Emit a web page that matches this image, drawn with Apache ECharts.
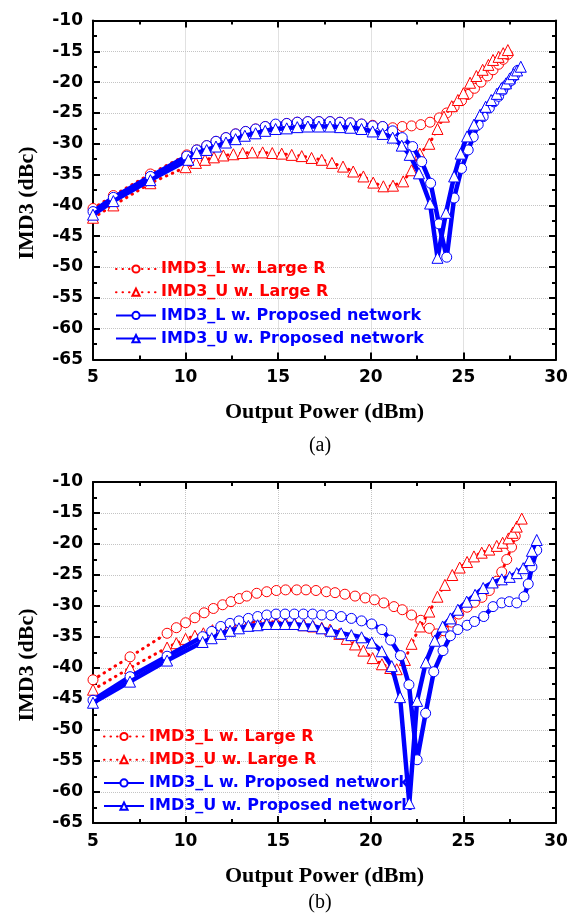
<!DOCTYPE html>
<html><head><meta charset="utf-8">
<script src="https://cdn.jsdelivr.net/npm/echarts@6/dist/echarts.min.js"></script>
<style>html,body{margin:0;padding:0;background:#fff}#c{width:578px;height:919px}</style>
</head><body><div id="c"></div><script>
// ---------- Data: chart (a) ----------
const xTicks = [5, 10, 15, 20, 25, 30];
const yTicks = [-65, -60, -55, -50, -45, -40, -35, -30, -25, -20, -15, -10];
const seriesNames = ['IMD3_L w. Large R', 'IMD3_U w. Large R', 'IMD3_L w. Proposed network', 'IMD3_U w. Proposed network'];

const aX_LR = [5, 6.1, 8.1, 10.06, 10.6, 11.14, 11.64, 12.18, 12.7, 13.24, 13.78, 14.3, 14.86, 15.46, 16.03, 16.6, 17.2, 17.8, 18.34, 18.9, 19.5, 20.1, 20.64, 21.18, 21.7, 22.2, 22.7, 23.2, 23.7, 24.1, 24.5, 24.9, 25.25, 25.6, 25.95, 26.3, 26.6, 26.9, 27.15, 27.4];
const aY_LR = [-40.5, -38.4, -34.9, -31.8, -31.0, -30.3, -29.6, -29.0, -28.4, -28.0, -27.6, -27.2, -26.9, -26.7, -26.5, -26.4, -26.4, -26.4, -26.5, -26.6, -26.8, -27.0, -27.2, -27.4, -27.2, -27.1, -26.9, -26.5, -25.8, -25.0, -24.0, -23.0, -22.0, -21.0, -20.0, -19.0, -18.0, -17.1, -16.3, -15.5];

const aX_UR = [5, 6.1, 8.1, 10.0, 10.56, 11.05, 11.53, 12.04, 12.58, 13.08, 13.6, 14.16, 14.68, 15.19, 15.73, 16.27, 16.8, 17.35, 17.9, 18.5, 19.05, 19.6, 20.13, 20.68, 21.2, 21.75, 22.2, 22.65, 23.16, 23.6, 23.95, 24.37, 24.7, 25.0, 25.36, 25.7, 26.04, 26.35, 26.6, 26.9, 27.15, 27.4];
const aY_UR = [-42.0, -40.0, -36.4, -33.8, -33.1, -32.6, -32.2, -31.9, -31.7, -31.5, -31.4, -31.4, -31.5, -31.6, -31.8, -32.0, -32.3, -32.6, -33.1, -33.7, -34.5, -35.3, -36.3, -36.9, -36.8, -36.1, -34.3, -31.6, -30.0, -27.6, -25.6, -23.9, -22.9, -21.8, -20.1, -19.0, -18.0, -17.2, -16.4, -15.9, -15.3, -14.8];

const aX_LP = [5, 6.1, 8.1, 10.06, 10.6, 11.14, 11.64, 12.18, 12.7, 13.24, 13.78, 14.3, 14.86, 15.46, 16.03, 16.6, 17.2, 17.8, 18.34, 18.9, 19.5, 20.1, 20.64, 21.18, 21.7, 22.26, 22.75, 23.23, 23.68, 24.1, 24.5, 24.9, 25.26, 25.53, 25.8, 26.07, 26.4, 26.65, 26.9, 27.12, 27.34, 27.55, 27.75, 27.93];
const aY_LP = [-41.0, -38.7, -35.3, -32.0, -31.0, -30.3, -29.6, -29.0, -28.4, -28.0, -27.6, -27.2, -26.8, -26.7, -26.5, -26.4, -26.4, -26.4, -26.5, -26.6, -26.8, -27.1, -27.2, -27.9, -29.0, -30.45, -32.9, -36.4, -43.0, -48.4, -38.8, -34.0, -31.0, -28.9, -26.9, -25.6, -24.2, -23.2, -22.3, -21.3, -20.45, -19.8, -19.0, -18.1];

const aX_UP = [5, 6.1, 8.1, 10.15, 10.6, 11.14, 11.64, 12.18, 12.7, 13.2, 13.78, 14.3, 14.86, 15.46, 16.03, 16.6, 17.2, 17.8, 18.34, 18.9, 19.5, 20.1, 20.64, 21.18, 21.67, 22.1, 22.6, 23.2, 23.6, 24.06, 24.5, 24.85, 25.2, 25.57, 25.9, 26.2, 26.5, 26.8, 27.05, 27.3, 27.5, 27.7, 27.9, 28.1];
const aY_UP = [-41.5, -39.3, -35.9, -32.6, -31.5, -31.0, -30.45, -29.8, -29.25, -28.7, -28.3, -27.9, -27.6, -27.5, -27.3, -27.2, -27.2, -27.2, -27.3, -27.4, -27.6, -28.0, -28.4, -29.0, -30.3, -31.8, -34.8, -39.7, -48.5, -41.2, -35.3, -31.6, -28.8, -26.9, -25.3, -24.0, -22.9, -21.9, -21.0, -20.2, -19.4, -18.7, -18.1, -17.5];

// ---------- Data: chart (b) ----------
const bX_LR = [5, 7, 9, 9.5, 10, 10.5, 11, 11.5, 12, 12.45, 12.9, 13.3, 13.84, 14.38, 14.9, 15.4, 16.0, 16.5, 17.04, 17.6, 18.07, 18.6, 19.15, 19.7, 20.2, 20.7, 21.25, 21.7, 22.2, 22.7, 23.16, 23.55, 23.95, 24.35, 24.75, 25.2, 25.6, 26.0, 26.4, 26.8, 27.07, 27.34, 27.6, 27.8];
const bY_LR = [-41.9, -38.2, -34.4, -33.5, -32.7, -31.9, -31.1, -30.4, -29.8, -29.3, -28.8, -28.4, -27.95, -27.7, -27.5, -27.4, -27.4, -27.4, -27.5, -27.7, -27.85, -28.1, -28.4, -28.7, -29.0, -29.5, -30.1, -30.6, -31.45, -32.3, -33.6, -34.5, -34.0, -32.6, -31.3, -30.2, -29.4, -28.6, -27.5, -26.0, -24.5, -22.5, -20.5, -18.7];

const bX_UR = [5, 7, 9, 9.5, 10, 10.5, 10.96, 11.45, 11.95, 12.4, 12.9, 13.4, 13.9, 14.4, 14.9, 15.4, 15.9, 16.4, 16.9, 17.35, 17.8, 18.3, 18.7, 19.15, 19.6, 20.1, 20.6, 21.05, 21.4, 21.84, 22.2, 22.66, 23.16, 23.6, 24.0, 24.4, 24.8, 25.2, 25.57, 25.99, 26.4, 26.8, 27.12, 27.43, 27.66, 27.88, 28.15];
const bY_UR = [-43.5, -40.0, -36.7, -36.0, -35.3, -34.8, -34.4, -33.9, -33.5, -33.2, -32.9, -32.7, -32.5, -32.5, -32.6, -32.7, -32.9, -33.1, -33.3, -33.5, -33.8, -34.5, -35.3, -36.2, -37.2, -38.4, -39.4, -40.0, -40.2, -38.7, -36.1, -33.3, -30.9, -28.5, -26.6, -25.0, -23.8, -22.9, -22.0, -21.4, -20.9, -20.3, -19.8, -19.1, -18.2, -17.2, -15.9];

const bX_LP = [5, 7, 9, 10.92, 11.41, 11.9, 12.4, 12.88, 13.39, 13.89, 14.38, 14.88, 15.37, 15.87, 16.36, 16.86, 17.35, 17.85, 18.4, 18.95, 19.5, 20.05, 20.6, 21.07, 21.6, 22.06, 22.5, 22.96, 23.4, 23.9, 24.3, 24.7, 25.2, 25.6, 26.1, 26.6, 27.07, 27.48, 27.88, 28.27, 28.5, 28.7, 28.96];
const bY_LP = [-45.2, -41.4, -38.1, -34.95, -34.1, -33.3, -32.8, -32.4, -32.0, -31.7, -31.45, -31.3, -31.3, -31.3, -31.3, -31.3, -31.45, -31.5, -31.7, -32.0, -32.4, -32.9, -33.8, -35.5, -38.0, -42.7, -54.8, -47.3, -40.6, -37.2, -34.8, -33.8, -33.1, -32.5, -31.7, -30.1, -29.5, -29.3, -29.5, -28.5, -26.45, -23.7, -21.0];

const bX_UP = [5, 7, 9, 10.92, 11.41, 11.9, 12.4, 12.88, 13.39, 13.89, 14.38, 14.88, 15.37, 15.87, 16.36, 16.86, 17.35, 17.85, 18.4, 18.95, 19.5, 20.05, 20.59, 21.13, 21.58, 22.08, 22.5, 22.97, 23.45, 23.88, 24.3, 24.7, 25.18, 25.63, 26.07, 26.58, 27.07, 27.5, 27.88, 28.23, 28.56, 28.7, 28.96];
const bY_UP = [-45.6, -42.2, -38.8, -35.8, -35.2, -34.5, -34.0, -33.6, -33.2, -33.1, -32.9, -32.9, -32.9, -32.9, -33.1, -33.2, -33.6, -34.0, -34.4, -34.7, -35.05, -35.9, -37.3, -39.7, -44.7, -61.8, -45.3, -39.1, -35.6, -33.3, -32.0, -30.6, -29.3, -28.2, -27.1, -26.2, -25.7, -25.3, -24.7, -23.9, -22.6, -21.1, -19.35];

// ---------- Build ----------
const RED = '#ff0000', BLUE = '#0000ff';
const zip = (xs, ys) => xs.map((x, i) => [x, ys[i]]);
const tickFont = { fontFamily: 'DejaVu Sans', fontWeight: 'bold', fontSize: 17, color: '#000' };
const frame = { onZero: false, lineStyle: { color: '#000', width: 2 } };
const tick = { inside: true, length: 7, lineStyle: { color: '#000', width: 2 } };
const minor = { show: true, splitNumber: 2, length: 4, lineStyle: { color: '#000', width: 2 } };
const split = { show: true, lineStyle: { type: 'dotted', color: '#c4c4c4', width: 1 } };

function xAxes(g) {
  return [
    { type: 'value', gridIndex: g, position: 'bottom', min: xTicks[0], max: xTicks[xTicks.length - 1], interval: 5,
      axisLine: frame, axisTick: tick, minorTick: minor, splitLine: split,
      axisLabel: Object.assign({ margin: 10 }, tickFont),
      name: 'Output Power (dBm)', nameLocation: 'middle', nameGap: 42,
      nameTextStyle: { fontFamily: 'Liberation Serif', fontWeight: 'bold', fontSize: 22, color: '#000' } },
    { type: 'value', gridIndex: g, position: 'top', min: xTicks[0], max: xTicks[xTicks.length - 1], interval: 5,
      axisLine: frame, axisTick: tick, minorTick: minor, splitLine: { show: false }, axisLabel: { show: false } }
  ];
}
function yAxes(g) {
  return [
    { type: 'value', gridIndex: g, position: 'left', min: yTicks[0], max: yTicks[yTicks.length - 1], interval: 5,
      axisLine: frame, axisTick: tick, minorTick: minor, splitLine: split,
      axisLabel: Object.assign({ margin: 10 }, tickFont) },
    { type: 'value', gridIndex: g, position: 'right', min: yTicks[0], max: yTicks[yTicks.length - 1], interval: 5,
      axisLine: frame, axisTick: tick, minorTick: minor, splitLine: { show: false }, axisLabel: { show: false } }
  ];
}
function mk(nameIdx, xs, ys, g) {
  const red = nameIdx < 2;
  const col = red ? RED : BLUE;
  return {
    type: 'line', name: seriesNames[nameIdx], xAxisIndex: 2 * g, yAxisIndex: 2 * g,
    data: zip(xs, ys),
    symbol: nameIdx % 2 === 0 ? 'circle' : 'triangle',
    symbolSize: nameIdx % 2 === 0 ? 10 : 11,
    showAllSymbol: true,
    lineStyle: red ? { color: col, width: 3, type: [0.5, 6], cap: 'round' } : { color: col, width: 4.5 },
    itemStyle: { color: '#fff', borderColor: col, borderWidth: 1 },
    emphasis: { disabled: true },
    z: 2 + nameIdx
  };
}
function legend(left, top) {
  return {
    orient: 'vertical', left: left, top: top, padding: 0, itemWidth: 40, itemHeight: 9, itemGap: 7.2,
    textStyle: { fontFamily: 'DejaVu Sans', fontWeight: 'bold', fontSize: 16, lineHeight: 16 },
    data: seriesNames.map((n, i) => ({ name: n, textStyle: { color: i < 2 ? RED : BLUE } }))
  };
}

const chart = echarts.init(document.getElementById('c'), null, { renderer: 'canvas' });
chart.setOption({
  animation: false,
  backgroundColor: '#fff',
  grid: [
    { left: 93, top: 20.5, width: 463, height: 339 },
    { left: 93, top: 482, width: 463, height: 341 }
  ],
  xAxis: xAxes(0).concat(xAxes(1)),
  yAxis: yAxes(0).concat(yAxes(1)),
  legend: [legend(115, 261), legend(103, 728.5)],
  series: [
    mk(0, aX_LR, aY_LR, 0), mk(1, aX_UR, aY_UR, 0), mk(2, aX_LP, aY_LP, 0), mk(3, aX_UP, aY_UP, 0),
    mk(0, bX_LR, bY_LR, 1), mk(1, bX_UR, bY_UR, 1), mk(2, bX_LP, bY_LP, 1), mk(3, bX_UP, bY_UP, 1)
  ],
  graphic: [
    { type: 'text', x: 27, y: 203, rotation: Math.PI / 2,
      style: { text: 'IMD3 (dBc)', font: 'bold 22px "Liberation Serif"', fill: '#000', align: 'center', verticalAlign: 'middle' } },
    { type: 'text', x: 27, y: 665, rotation: Math.PI / 2,
      style: { text: 'IMD3 (dBc)', font: 'bold 22px "Liberation Serif"', fill: '#000', align: 'center', verticalAlign: 'middle' } },
    { type: 'text', x: 320, y: 446,
      style: { text: '(a)', font: '20px "Liberation Serif"', fill: '#000', align: 'center', verticalAlign: 'middle' } },
    { type: 'text', x: 320, y: 903,
      style: { text: '(b)', font: '20px "Liberation Serif"', fill: '#000', align: 'center', verticalAlign: 'middle' } }
  ]
});
</script></body></html>
